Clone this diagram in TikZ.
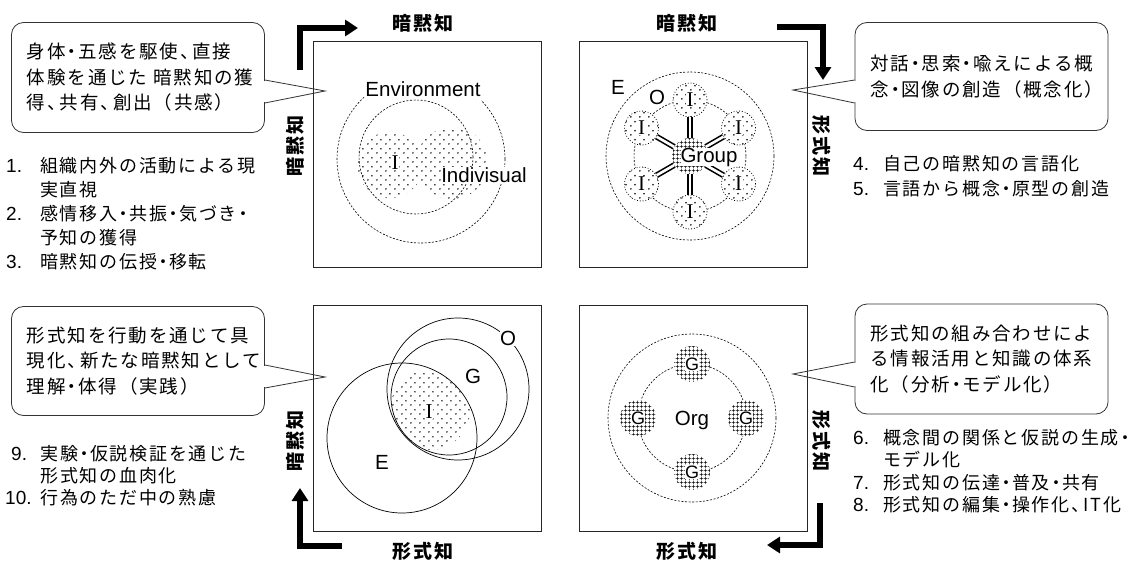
\documentclass[tikz,border=0pt]{standalone}
\usepackage{fontspec}
\usepackage{array}
\setmainfont{Liberation Sans}
\newfontfamily\jp{Noto Sans CJK JP}[LetterSpace=10]
\newfontfamily\serifI{Liberation Serif}
\usetikzlibrary{arrows.meta,patterns,calc}

% staggered dot screen
\pgfdeclarepatternformonly{stagdots}{\pgfpointorigin}{\pgfpoint{8.5pt}{9pt}}{\pgfpoint{8.5pt}{9pt}}{%
  \pgfpathcircle{\pgfpoint{2pt}{2.25pt}}{0.9pt}%
  \pgfpathcircle{\pgfpoint{6.25pt}{6.75pt}}{0.9pt}%
  \pgfusepath{fill}}
% square grid
\pgfdeclarepatternformonly{densegrid}{\pgfpointorigin}{\pgfpoint{4pt}{4pt}}{\pgfpoint{4pt}{4pt}}{%
  \pgfsetlinewidth{0.85pt}%
  \pgfpathmoveto{\pgfpoint{0pt}{2pt}}\pgfpathlineto{\pgfpoint{4pt}{2pt}}%
  \pgfpathmoveto{\pgfpoint{2pt}{0pt}}\pgfpathlineto{\pgfpoint{2pt}{4pt}}%
  \pgfusepath{stroke}}

% narrow Japanese punctuation
\newcommand\jdot{\kern-3pt・\kern-3pt}
\newcommand\jcomma{、\kern-6pt}
\newcommand\lno[1]{{\fontsize{19}{24}\selectfont #1}}

\tikzset{
  quad/.style={draw=black!85, line width=0.9pt, minimum width=228pt, minimum height=226pt, inner sep=0pt},
  fine dash/.style={line width=0.6pt, dash pattern=on 2pt off 1.6pt},
  ring/.style={line width=0.7pt},
  bubble/.style={draw=black!80, line width=0.8pt, rounded corners=12pt, text width=222pt,
    inner xsep=15.5pt, inner ysep=0pt, minimum height=110pt, align=left,
    font=\jp\fontsize{18.5}{25.5}\selectfont},
  pointer/.style={draw=black!80, line width=0.8pt, line join=miter},
  klist/.style={anchor=north west, inner sep=0pt, align=left},
  axis/.style={font=\jp\bfseries\fontsize{19}{19}\selectfont, inner sep=0pt},
  lbl/.style={font=\fontsize{20.5}{20.5}\selectfont, inner sep=0.5pt},
  glbl/.style={font=\fontsize{18}{18}\selectfont, inner sep=0.3pt, fill=white},
  serif I/.style={font=\serifI\fontsize{21}{21}\selectfont, inner sep=0.5pt},
  bigarrow/.style={line width=5.5pt, line join=miter, -{Triangle[length=13pt,width=16pt]}},
  iblob/.style={circle, minimum size=34pt, inner sep=0pt, preaction={fill=white},
    pattern=stagdots, draw=black, line width=0.8pt, dotted},
  gblob/.style={circle, minimum size=36pt, inner sep=0pt, preaction={fill=white}, pattern=densegrid},
  dblline/.style={double, double distance=2.6pt, line width=1.6pt},
}

\begin{document}
\begin{tikzpicture}[x=1pt,y=-1pt]
\useasboundingbox (0,0) rectangle (1136,560);
\fill[white] (0,0) rectangle (1136,560);

% ---------- four frames ----------
\node[quad] (q1) at (427,154) {};
\node[quad] (q2) at (693,154) {};
\node[quad] (q3) at (427,418.5) {};
\node[quad] (q4) at (693,418.5) {};

% ---------- panel 1: individual in environment ----------
\draw[fine dash] (421,159) circle[radius=84pt];
\node[lbl, fill=white, inner ysep=8pt] (env) at (423,89) {Environment};
\draw[fine dash] (416,157) circle[radius=57pt];
\fill[pattern=stagdots] (390,165) circle[radius=33pt] (452,163) circle[radius=36pt];
\node[serif I, fill=white] (ind1) at (395,163) {I};
\node[lbl, fill=white] (indiv) at (484,175) {Indivisual};

% ---------- panel 2: group dialogue ----------
\coordinate (c2) at (690,156);
\draw[fine dash] (c2) circle[radius=84pt];
\draw[fine dash] (c2) circle[radius=56pt];
\node[lbl] (e2) at (618,87) {E};
\node[lbl] (o2) at (657,97) {O};
\foreach \k/\a in {1/90,2/150,3/210,4/270,5/330,6/30}{
  \node[iblob] (b\k) at ($(c2)+(\a:56)$) {};
  \node[serif I, fill=white] (bi\k) at (b\k) {I};
}
\node[gblob] (hub) at (c2) {};
\foreach \k in {1,...,6}{ \draw[dblline] (hub) -- (b\k); }
\node[lbl, fill=white, inner sep=0pt] (grp) at (709,157) {Group};

% ---------- panel 3: embodiment ----------
\begin{scope}
  \clip (402,438) circle[radius=75pt];
  \clip (430,410) circle[radius=40pt];
  \fill[pattern=stagdots] (449,397) circle[radius=58pt];
\end{scope}
\draw[ring] (402,438) circle[radius=75pt];
\draw[ring] (458,389) circle[radius=71pt];
\draw[ring] (449,397) circle[radius=58pt];
\node[lbl, fill=white] (o3) at (508,338) {O};
\node[lbl] (g3) at (473,376) {G};
\node[serif I, fill=white] (i3) at (429,412) {I};
\node[lbl] (e3) at (382,462) {E};

% ---------- panel 4: organisation ----------
\coordinate (c4) at (692,418);
\draw[fine dash] (c4) circle[radius=84pt];
\draw[fine dash] (c4) circle[radius=54pt];
\foreach \k/\p in {1/{(692,364)},2/{(638,418)},3/{(746,418)},4/{(692,472)}}{
  \node[gblob] (g\k) at \p {};
  \node[glbl] (gt\k) at (g\k) {G};
}
\node[lbl] (org) at (692,420) {Org};

% ---------- turning arrows ----------
\coordinate (a1s) at (300,70);  \coordinate (a1e) at (358,28);
\coordinate (a2s) at (777,27);  \coordinate (a2e) at (823,80);
\coordinate (a3s) at (342,546); \coordinate (a3e) at (300,488);
\coordinate (a4s) at (820,503); \coordinate (a4e) at (767,545);
\draw[bigarrow] (a1s) |- (a1e);
\draw[bigarrow] (a2s) -| (a2e);
\draw[bigarrow] (a3s) -| (a3e);
\draw[bigarrow] (a4s) |- (a4e);

% ---------- axis labels ----------
\node[axis] (tx1) at (423,23) {暗黙知};
\node[axis] (tx2) at (687,23) {暗黙知};
\node[axis] (bx1) at (423,551) {形式知};
\node[axis] (bx2) at (687,551) {形式知};
\node[axis, rotate=90]  (lx1) at (295,146) {暗黙知};
\node[axis, rotate=90]  (lx2) at (295,441) {暗黙知};
\node[axis, rotate=-90] (rx1) at (822,146) {形式知};
\node[axis, rotate=-90] (rx2) at (822,441) {形式知};

% ---------- speech bubbles ----------
\node[bubble] (cb1) at (138,77.5) {身体\jdot 五感を駆使\jcomma 直接\\体験を通じた~暗黙知の獲\\得\jcomma 共有\jcomma 創出（共感）};
\node[bubble, minimum height=108pt] (cb2) at (981.5,76.5) {対話\jdot 思索\jdot 喩えによる概\\念\jdot 図像の創造（概念化）};
\node[bubble, minimum height=109pt] (cb3) at (138,361) {形式知を行動を通じて具\\現化\jcomma 新たな暗黙知として\\理解\jdot 体得（実践）};
\node[bubble] (cb4) at (981.5,359) {形式知の組み合わせによ\\る情報活用と知識の体系\\化（分析\jdot モデル化）};

% pointers
\coordinate (p1) at (325,91);
\coordinate (p2) at (793,90);
\coordinate (p3) at (325,377);
\coordinate (p4) at (793,374);
\fill[white] ($(cb1.east |- 0,81)+(-2,0)$) rectangle ($(cb1.east |- 0,102)+(2,0)$);
\draw[pointer] (cb1.east |- 0,80) -- (p1) -- (cb1.east |- 0,103);
\fill[white] ($(cb2.west |- 0,81)+(-2,0)$) rectangle ($(cb2.west |- 0,102)+(2,0)$);
\draw[pointer] (cb2.west |- 0,80) -- (p2) -- (cb2.west |- 0,103);
\fill[white] ($(cb3.east |- 0,366)+(-2,0)$) rectangle ($(cb3.east |- 0,387)+(2,0)$);
\draw[pointer] (cb3.east |- 0,365) -- (p3) -- (cb3.east |- 0,388);
\fill[white] ($(cb4.west |- 0,363)+(-2,0)$) rectangle ($(cb4.west |- 0,386)+(2,0)$);
\draw[pointer] (cb4.west |- 0,362) -- (p4) -- (cb4.west |- 0,387);

% ---------- numbered lists ----------
\node[klist, font=\fontsize{18}{24}\selectfont] (l1) at (6,155.4) {%
\begin{tabular}{@{}p{34pt}@{}>{\jp\fontsize{18}{24}\selectfont}l@{}}
\lno{1.} & 組織内外の活動による現\\
 & 実直視\\
\lno{2.} & 感情移入\jdot 共振\jdot 気づき\jdot\\
 & 予知の獲得\\
\lno{3.} & 暗黙知の伝授\jdot 移転
\end{tabular}};

\node[klist, font=\fontsize{18}{25}\selectfont] (l2) at (853,152.5) {%
\begin{tabular}{@{}p{30pt}@{}>{\jp\fontsize{18}{25}\selectfont}l@{}}
\lno{4.} & 自己の暗黙知の言語化\\
\lno{5.} & 言語から概念\jdot 原型の創造
\end{tabular}};

\node[klist, font=\fontsize{18}{22}\selectfont] (l3) at (5,444.8) {%
\begin{tabular}{@{}p{35pt}@{}>{\jp\fontsize{18}{22}\selectfont}l@{}}
\lno{\hspace{6pt}9.} & 実験\jdot 仮説検証を通じた\\
 & 形式知の血肉化\\
\lno{10.} & 行為のただ中の熟慮
\end{tabular}};

\node[klist, font=\fontsize{18}{22.3}\selectfont] (l4) at (853,428.6) {%
\begin{tabular}{@{}p{30pt}@{}>{\jp\fontsize{18}{22.3}\selectfont}l@{}}
\lno{6.} & 概念間の関係と仮説の生成\jdot\\
 & モデル化\\
\lno{7.} & 形式知の伝達\jdot 普及\jdot 共有\\
\lno{8.} & 形式知の編集\jdot 操作化\jcomma IT化
\end{tabular}};

\end{tikzpicture}
\end{document}
